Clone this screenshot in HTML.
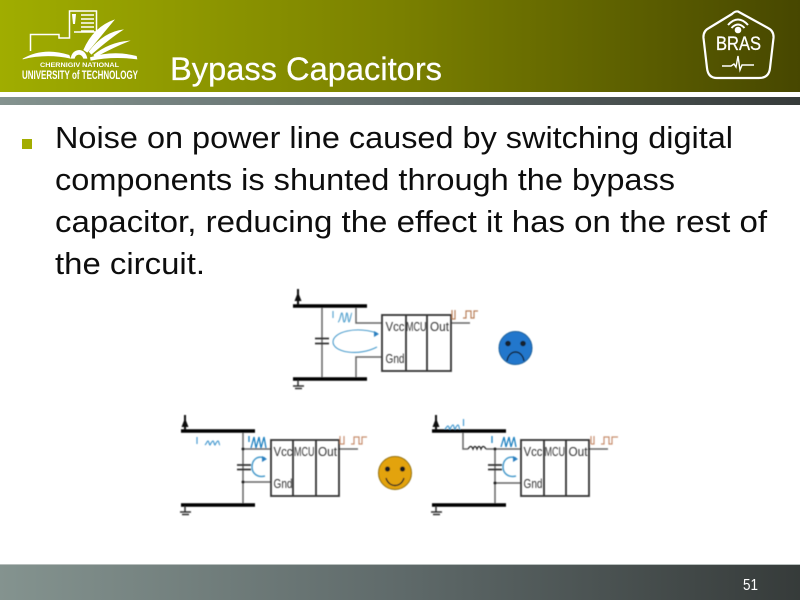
<!DOCTYPE html>
<html><head><meta charset="utf-8"><style>html,body{margin:0;padding:0;background:#fff;width:800px;height:600px;overflow:hidden}svg{display:block}text{font-family:"Liberation Sans",sans-serif}</style></head><body>
<svg width="800" height="600" viewBox="0 0 800 600" xmlns="http://www.w3.org/2000/svg">
<defs>
<linearGradient id="h" x1="0" x2="1" y1="0" y2="0"><stop offset="0" stop-color="#a0ad00"/><stop offset=".5" stop-color="#7a8000"/><stop offset="1" stop-color="#474700"/></linearGradient>
<linearGradient id="g" x1="0" x2="1" y1="0" y2="0"><stop offset="0" stop-color="#84938f"/><stop offset=".5" stop-color="#5f6a6a"/><stop offset="1" stop-color="#363b3a"/></linearGradient>
<filter id="b" x="-5%" y="-5%" width="110%" height="110%"><feGaussianBlur stdDeviation="0.45"/></filter>
<filter id="t" x="-5%" y="-5%" width="110%" height="110%"><feGaussianBlur stdDeviation="0.3"/></filter>
</defs>
<rect width="800" height="92" fill="url(#h)"/>
<rect y="97" width="800" height="8" fill="url(#g)"/>
<rect y="565" width="800" height="35" fill="url(#g)"/>
<rect y="564" width="800" height="1" fill="#b8bfbd"/>

<g filter="url(#t)">
<g fill="none" stroke="#fff" stroke-width="1.5">
<path d="M30.500 51V34.500H59V38H69.500V11H96.500V32H74"/>
<path d="M81 15H94M81 19H94M81 23H94M81 27H94M81 31H94"/>
</g>
<path d="M72 14L76 14L75 24L73 24Z" fill="#fff"/>
<g fill="#fff" transform="scale(.3333)">
<path d="M68 176Q130 140 208 165L212 176Q140 160 68 178Z"/>
<path d="M270 172Q340 150 410 168L412 178Q340 168 272 182Z"/>
<path d="M250 150Q280 80 345 58Q310 100 262 158Z"/>
<path d="M266 155Q310 95 372 88Q330 115 274 164Z"/>
<path d="M280 165Q330 125 392 122Q345 140 286 172Z"/>
<path d="M212 176Q215 152 238 150Q258 152 262 176H250Q246 165 237 164Q226 165 224 176Z"/>
</g>
<g fill="#fff">
<text x="40" y="67" font-size="6.500" font-weight="bold" textLength="79" lengthAdjust="spacingAndGlyphs">CHERNIGIV NATIONAL</text>
<text x="22" y="79" font-size="11.500" font-weight="bold" textLength="116" lengthAdjust="spacingAndGlyphs">UNIVERSITY of TECHNOLOGY</text>
</g>
<path d="M738 11.500L768 28Q774 31 773.500 38L770 68Q769 78 759 78H717Q708 78 707 68L703.500 38Q703 31 709 28L732 14Q735 11 738 11.500Z" fill="none" stroke="#fff" stroke-width="2.200" stroke-linejoin="round"/>
<g fill="none" stroke="#fff" stroke-width="2">
<path d="M728 25Q738 14 748 25M731.500 28Q738 21 744.500 28"/>
</g>
<circle cx="738" cy="30" r="3.300" fill="#fff"/>
<text x="738.500" y="50" font-size="19" fill="#fff" stroke="#fff" stroke-width=".3" text-anchor="middle" textLength="45" lengthAdjust="spacingAndGlyphs">BRAS</text>
<path d="M722 66H731L734 64L736 67L738 56L740 70L742 65H754" fill="none" stroke="#fff" stroke-width="1.400"/>
</g>

<text x="170" y="80" font-size="32" fill="#fff" stroke="#fff" stroke-width=".25" textLength="272" lengthAdjust="spacingAndGlyphs" filter="url(#t)">Bypass Capacitors</text>

<rect x="22" y="139" width="10" height="10" fill="#a3ad00"/>
<g font-size="31" fill="#111" filter="url(#t)">
<text x="55" y="148" textLength="678" lengthAdjust="spacingAndGlyphs">Noise on power line caused by switching digital</text>
<text x="55" y="190" textLength="620" lengthAdjust="spacingAndGlyphs">components is shunted through the bypass</text>
<text x="55" y="232" textLength="712" lengthAdjust="spacingAndGlyphs">capacitor, reducing the effect it has on the rest of</text>
<text x="55" y="274" textLength="150" lengthAdjust="spacingAndGlyphs">the circuit.</text>
</g>

<g filter="url(#b)">
<!-- top circuit -->
<g fill="none" stroke="#666" stroke-width="1.500">
<path d="M322 306V379M356 306V323H382M356 379V357H382M451 323H470"/>
</g>
<path d="M293 306H367M293 379H367" stroke="#000" stroke-width="3.600"/>
<path d="M315 338.500H329M315 343.500H329" stroke="#333" stroke-width="1.800"/>
<rect x="382" y="315" width="69" height="56" fill="none" stroke="#333" stroke-width="1.800"/>
<path d="M406 315V371M427 315V371" stroke="#333" stroke-width="1.800"/>
<path d="M298 289V305" stroke="#111" stroke-width="2"/><path d="M294.500 301L298 292L301.500 301Z" fill="#111"/>
<path d="M298 380V386M293 386H304M295 388.500H302" stroke="#333" stroke-width="1.500"/>
<g font-size="13" fill="#333">
<text x="385.500" y="331" textLength="19" lengthAdjust="spacingAndGlyphs">Vcc</text>
<text x="406" y="331" textLength="20.500" lengthAdjust="spacingAndGlyphs">MCU</text>
<text x="430" y="331" textLength="19" lengthAdjust="spacingAndGlyphs">Out</text>
<text x="385.500" y="363" textLength="19" lengthAdjust="spacingAndGlyphs">Gnd</text>
</g>
<path d="M333 311V318M338 322C340 322 341 312 342 313C343 314 343 321 344 322C346 322 346 312 347 313C348 314 348 321 349 322C350 322 351 313 352 313" fill="none" stroke="#5aa5d0" stroke-width="1.200"/>
<path d="M377 333C355 326 333 332 333 342C333 352 358 357 377 347" fill="none" stroke="#4a9bcc" stroke-width="1.100"/>
<path d="M374 331L379 334L374 337Z" fill="#2a7fc0"/>
<path d="M452 319V310M452 319H455V310M463 318H466V311H471V318H474V311H478" fill="none" stroke="#b9805a" stroke-width="1.200"/>
<circle cx="515.500" cy="348" r="16.500" fill="#2277cc" stroke="#1d5f99"/>
<circle cx="508" cy="343.500" r="2.800" fill="#12202e"/><circle cx="523" cy="343.500" r="2.800" fill="#12202e"/>
<path d="M507 361C509 349 522 349 524 361" fill="none" stroke="#12202e" stroke-width="1.400"/>

<!-- bottom left circuit -->
<g fill="none" stroke="#666" stroke-width="1.500">
<path d="M243 431V505M243 449H271M243 482H271M338 449H358"/>
</g>
<path d="M181 431H255M181 505H255" stroke="#000" stroke-width="3.600"/>
<path d="M237 465H251M237 469.500H251" stroke="#333" stroke-width="1.800"/>
<rect x="271" y="440" width="68" height="56" fill="none" stroke="#333" stroke-width="1.800"/>
<path d="M293 440V496M316 440V496" stroke="#333" stroke-width="1.800"/>
<path d="M185 415V430" stroke="#111" stroke-width="2"/><path d="M181.500 427L185 418L188.500 427Z" fill="#111"/>
<path d="M185 506V512M180 512H191M182 514.500H189" stroke="#333" stroke-width="1.500"/>
<circle cx="243" cy="449" r="1.500" fill="#222"/><circle cx="243" cy="482" r="1.500" fill="#222"/>
<g font-size="13" fill="#333">
<text x="273.500" y="456" textLength="19" lengthAdjust="spacingAndGlyphs">Vcc</text>
<text x="294" y="456" textLength="20.500" lengthAdjust="spacingAndGlyphs">MCU</text>
<text x="318" y="456" textLength="19" lengthAdjust="spacingAndGlyphs">Out</text>
<text x="273.500" y="488" textLength="19" lengthAdjust="spacingAndGlyphs">Gnd</text>
</g>
<path d="M197 437V444M205 445C207 443 207 441 208 441C209 441 209 445 210 445C211 443 212 441 213 441C214 441 214 445 215 445C216 443 217 441 218 441C219 441 219 445 220 445" fill="none" stroke="#4a9bd0" stroke-width="1.200"/>
<path d="M249 436V442M251 448L254 437L256 448L259 437L261 448L264 437L266 448" fill="none" stroke="#1f80c0" stroke-width="1.300"/>
<path d="M265 458C256 455 252 461 252 467C252 473 257 478 265 476" fill="none" stroke="#4a9bcc" stroke-width="1.500"/>
<path d="M262 456L267 459L262 462Z" fill="#2a7fc0"/>
<path d="M340 444V436M340 444H344V436M351 444H354V437H359V444H362V437H367" fill="none" stroke="#c89070" stroke-width="1.200"/>
<circle cx="395" cy="473" r="16.500" fill="#e3a30f" stroke="#8f6e10"/>
<circle cx="387.500" cy="469" r="2.600" fill="#1a1a1a"/><circle cx="402.500" cy="469" r="2.600" fill="#1a1a1a"/>
<path d="M386 478C389 488 401 488 404 478" fill="none" stroke="#222" stroke-width="1.400"/>

<!-- bottom right circuit -->
<g fill="none" stroke="#666" stroke-width="1.500">
<path d="M463 431V449H468M495 449V505M495 449H521M495 483H521M588 449H608M486 449H495"/>
</g>
<path d="M468 449Q471 444 473 449Q475 444 477 449Q479 444 481 449Q483 444 486 449" fill="none" stroke="#222" stroke-width="1.300"/>
<path d="M432 431H506M432 505H506" stroke="#000" stroke-width="3.600"/>
<path d="M488 465H502M488 469.500H502" stroke="#333" stroke-width="1.800"/>
<rect x="521" y="440" width="68" height="56" fill="none" stroke="#333" stroke-width="1.800"/>
<path d="M544 440V496M566 440V496" stroke="#333" stroke-width="1.800"/>
<path d="M436 415V430" stroke="#111" stroke-width="2"/><path d="M432.500 427L436 418L439.500 427Z" fill="#111"/>
<path d="M436 506V512M431 512H442M433 514.500H440" stroke="#333" stroke-width="1.500"/>
<circle cx="495" cy="449" r="1.500" fill="#222"/><circle cx="495" cy="483" r="1.500" fill="#222"/>
<g font-size="13" fill="#333">
<text x="523.500" y="456" textLength="19" lengthAdjust="spacingAndGlyphs">Vcc</text>
<text x="544.500" y="456" textLength="20.500" lengthAdjust="spacingAndGlyphs">MCU</text>
<text x="568.500" y="456" textLength="19" lengthAdjust="spacingAndGlyphs">Out</text>
<text x="523.500" y="488" textLength="19" lengthAdjust="spacingAndGlyphs">Gnd</text>
</g>
<path d="M463.500 419V426M445 429C447 427 447 426 448 426C449 426 449 429 450 429C451 427 452 425 453 425C454 425 454 429 455 429C456 427 457 425 458 425C459 425 459 429 460 429" fill="none" stroke="#4a9bd0" stroke-width="1.200"/>
<path d="M492 436V443M501 447L504 437L506 447L509 437L511 447L514 437L516 447" fill="none" stroke="#1f80c0" stroke-width="1.300"/>
<path d="M516 458C507 455 503 461 503 467C503 473 508 478 516 476" fill="none" stroke="#4a9bcc" stroke-width="1.500"/>
<path d="M513 456L518 459L513 462Z" fill="#2a7fc0"/>
<path d="M591 444V436M591 444H594V436M601 444H604V437H609V444H612V437H618" fill="none" stroke="#c89070" stroke-width="1.200"/>
</g>

<text x="743" y="590" font-size="16" fill="#fff" textLength="15" lengthAdjust="spacingAndGlyphs">51</text>
</svg>
</body></html>
